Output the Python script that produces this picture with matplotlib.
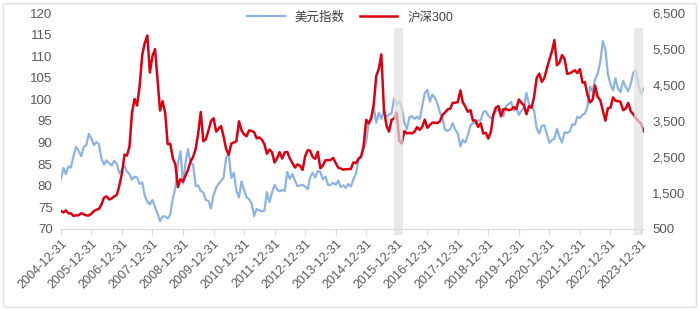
import numpy as np
import pandas as pd
import matplotlib
matplotlib.use("Agg")
import matplotlib.pyplot as plt
from matplotlib.patches import FancyBboxPatch
from matplotlib.ticker import FuncFormatter

plt.rcParams["font.family"] = ["Liberation Sans", "Noto Sans CJK SC", "DejaVu Sans"]

# monthly closes, 2004-12 .. 2024-01
dates = pd.date_range("2004-12-31", "2024-01-31", freq="ME")

dxy = [
    81.5,
    84.1, 82.7, 84.5, 84.2, 86.9, 89.0, 88.1, 86.8, 89.0, 89.4, 92.0, 90.9,
    89.4, 90.1, 89.6, 86.3, 84.9, 85.9, 85.2, 84.7, 85.8, 85.1, 82.9, 83.7,
    84.6, 83.3, 82.7, 81.4, 82.1, 81.9, 80.4, 80.8, 77.7, 76.3, 75.7, 76.7,
    75.0, 73.6, 71.8, 72.9, 72.9, 72.4, 73.3, 77.1, 79.5, 85.0, 88.0, 80.5,
    85.5, 88.5, 85.4, 84.9, 79.9, 80.1, 78.8, 78.4, 76.7, 76.5, 74.7, 77.9,
    79.5, 80.4, 81.1, 81.9, 86.5, 87.5, 81.8, 83.0, 78.9, 77.3, 81.0, 79.0,
    77.3, 76.9, 75.9, 73.0, 74.6, 74.3, 74.1, 74.2, 78.5, 76.2, 78.4, 80.2,
    79.1, 78.7, 79.0, 78.8, 83.2, 81.6, 82.7, 81.2, 79.9, 80.1, 80.2, 79.8,
    79.2, 82.0, 83.0, 81.9, 83.4, 83.2, 81.5, 82.1, 80.2, 80.2, 80.7, 80.2,
    81.2, 79.7, 80.1, 79.5, 80.4, 79.8, 81.5, 82.8, 86.0, 87.0, 88.4, 90.3,
    94.8, 95.3, 98.4, 94.6, 96.9, 95.5, 97.3, 96.0, 96.4, 96.9, 100.2, 98.7,
    99.6, 98.2, 94.6, 93.1, 95.9, 96.1, 95.5, 96.0, 95.4, 98.4, 101.5, 102.2,
    99.5, 101.1, 100.4, 99.1, 97.0, 95.6, 92.9, 92.7, 93.1, 94.5, 93.0, 92.1,
    89.1, 90.6, 90.0, 91.8, 94.0, 94.5, 94.5, 95.1, 95.1, 97.1, 97.3, 96.2,
    95.6, 96.2, 97.3, 97.5, 97.8, 96.1, 98.5, 98.9, 99.4, 97.4, 98.3, 96.4,
    97.4, 98.1, 101.5, 99.0, 98.3, 97.4, 93.3, 92.1, 93.9, 94.0, 91.9, 89.9,
    90.6, 90.9, 93.2, 91.3, 90.0, 92.4, 92.2, 92.6, 94.2, 94.1, 96.0, 95.7,
    96.5, 96.7, 98.3, 103.0, 101.8, 104.7, 105.9, 108.7, 113.5, 111.5, 105.9, 103.5,
    102.1, 104.9, 102.5, 101.7, 104.3, 102.9, 101.9, 103.6, 106.2, 106.7, 103.5, 101.3,
    102.5,
]

hs300 = [
    1000,
    958, 1016, 932, 931, 859, 877, 879, 935, 906, 876, 871, 923,
    996, 1034, 1054, 1180, 1370, 1406, 1319, 1346, 1403, 1447, 1702, 2042,
    2564, 2536, 2781, 3724, 4110, 3930, 4472, 5339, 5664, 5877, 4847, 5300,
    5500, 4671, 3790, 4050, 3734, 2855, 2866, 2464, 2293, 1663, 1881, 1817,
    1990, 2140, 2375, 2498, 2725, 3153, 3750, 2936, 2996, 3233, 3497, 3576,
    3204, 3282, 3358, 3068, 2717, 2563, 2868, 2904, 2935, 3491, 3245, 3128,
    3076, 3239, 3223, 3189, 3017, 3044, 2982, 2857, 2587, 2706, 2634, 2346,
    2464, 2634, 2455, 2627, 2641, 2462, 2333, 2205, 2293, 2254, 2140, 2523,
    2688, 2673, 2495, 2449, 2643, 2185, 2263, 2407, 2409, 2413, 2474, 2331,
    2202, 2178, 2146, 2158, 2161, 2165, 2350, 2327, 2450, 2509, 2808, 3533,
    3435, 3572, 3961, 4749, 4950, 5350, 3816, 3366, 3203, 3534, 3566, 3731,
    2946, 2877, 3218, 3156, 3169, 3154, 3203, 3329, 3253, 3336, 3538, 3310,
    3387, 3452, 3456, 3439, 3492, 3666, 3737, 3822, 3837, 4006, 4006, 4030,
    4350, 4023, 3899, 3756, 3802, 3510, 3517, 3335, 3438, 3153, 3173, 3011,
    3202, 3670, 3872, 3913, 3630, 3826, 3836, 3799, 3814, 3886, 3829, 4097,
    4003, 3940, 3686, 3912, 3868, 4164, 4696, 4817, 4588, 4695, 4960, 5211,
    5450, 5750, 5048, 5123, 5331, 5224, 4811, 4826, 4866, 4908, 4833, 4940,
    4564, 4581, 4223, 4016, 4091, 4485, 4170, 4079, 3804, 3508, 3854, 3872,
    4156, 4062, 4051, 4029, 3799, 3842, 4002, 3765, 3690, 3573, 3497, 3431,
    3216,
]

tick_dates = pd.date_range("2004-12-31", "2023-12-31", freq="YE")
shade_spans = [("2015-11-25", "2016-03-10"), ("2023-10-05", "2024-01-22")]

BLUE = "#8DB3E2"
RED = "#DC0010"
GREY = "#595959"

fig = plt.figure(figsize=(7.0, 3.11), dpi=100)
ax = fig.add_axes([0.087, 0.264, 0.833, 0.694])
ax2 = ax.twinx()

l1, = ax.plot(dates, dxy, color=BLUE, lw=1.6, label="美元指数", zorder=2)
l2, = ax2.plot(dates, hs300, color=RED, lw=1.8, label="沪深300", zorder=2)

for a, b in shade_spans:
    ax2.axvspan(pd.Timestamp(a), pd.Timestamp(b), ymin=-0.03, ymax=0.93,
                color="#E0E0E0", alpha=0.7, lw=0, zorder=5, clip_on=False)

ax.set_xlim(pd.Timestamp("2004-12-31"), pd.Timestamp("2024-02-05"))
ax.set_ylim(70, 120)
ax2.set_ylim(500, 6500)
ax.set_yticks(np.arange(70, 121, 5))
ax2.set_yticks(np.arange(500, 6501, 1000))
ax2.yaxis.set_major_formatter(FuncFormatter(lambda v, _: f"{int(v):,}"))

ax.set_xticks(tick_dates)
ax.set_xticklabels([d.strftime("%Y-%m-%d") for d in tick_dates],
                   rotation=45, ha="right", rotation_mode="anchor")

for a in (ax, ax2):
    for s in ("top", "left", "right"):
        a.spines[s].set_visible(False)
    a.spines["bottom"].set_color("#D9D9D9")
ax2.spines["bottom"].set_visible(False)

ax.tick_params(axis="x", colors="#D9D9D9", labelcolor=GREY, labelsize=9,
               length=4, width=0.8, pad=2)
ax.tick_params(axis="y", length=0, labelcolor=GREY, labelsize=9.5, pad=6)
ax2.tick_params(axis="y", length=0, labelcolor=GREY, labelsize=9.5, pad=6)

fig.legend([l1, l2], ["美元指数", "沪深300"], loc="upper center",
           bbox_to_anchor=(0.5, 1.0), ncol=2, frameon=False, fontsize=9,
           handlelength=3.0, columnspacing=1.2, labelcolor="#404040")

border = FancyBboxPatch((0.005, 0.012), 0.99, 0.976,
                        boxstyle="round,pad=0,rounding_size=0.005",
                        transform=fig.transFigure, fill=False,
                        edgecolor="#E3E3E3", lw=1.2)
fig.patches.append(border)

fig.savefig("out.png", dpi=100)
